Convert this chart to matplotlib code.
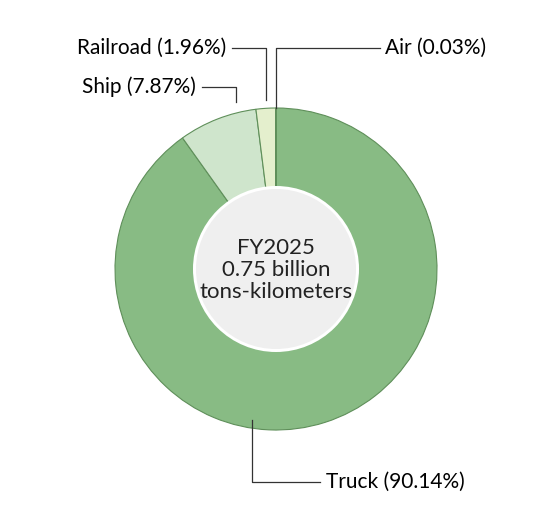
import matplotlib.pyplot as plt
from matplotlib.patches import Circle

labels = ["Truck", "Ship", "Railroad", "Air"]
shares = [90.14, 7.87, 1.96, 0.03]
colors = ["#88bb84", "#cfe5cc", "#e4efcd", "#f4f8e6"]
center_text = "FY2025\n0.75 billion\ntons-kilometers"

plt.rcParams["font.family"] = ["Lato", "DejaVu Sans"]

fig = plt.figure(figsize=(5.56, 5.18), dpi=100)
ax = fig.add_axes([0, 0, 1, 1])
ax.set_xlim(0, 556)
ax.set_ylim(518, 0)
ax.set_aspect("equal")
ax.axis("off")

cx, cy, r = 276, 269, 161
# y axis is flipped, so counterclock=True reads clockwise on screen
wedges, _ = ax.pie(shares, colors=colors, startangle=-90, counterclock=True,
                   center=(cx, cy), radius=r,
                   wedgeprops=dict(edgecolor="#5f8f5a", linewidth=0.8))
ax.set_xlim(0, 556)
ax.set_ylim(518, 0)
ax.add_patch(Circle((cx, cy), 83, facecolor="white", edgecolor="none", zorder=3))
ax.add_patch(Circle((cx, cy), 80, facecolor="#efefef", edgecolor="none", zorder=4))
ax.text(cx, cy + 1, center_text, ha="center", va="center", fontsize=16,
        linespacing=1.1, zorder=5, color="#222222")

lc = "#333333"
lw = 0.9
fs = 15
# Air
ax.plot([276, 276, 380], [108, 48, 48], color=lc, lw=lw)
ax.text(385, 48, f"{labels[3]} ({shares[3]:.2f}%)", ha="left", va="center", fontsize=fs)
# Railroad
ax.plot([266, 266, 232], [100, 48, 48], color=lc, lw=lw)
ax.text(226, 48, f"{labels[2]} ({shares[2]:.2f}%)", ha="right", va="center", fontsize=fs)
# Ship
ax.plot([236, 236, 202], [102, 87, 87], color=lc, lw=lw)
ax.text(196, 87, f"{labels[1]} ({shares[1]:.2f}%)", ha="right", va="center", fontsize=fs)
# Truck
ax.plot([252, 252, 320], [420, 482, 482], color=lc, lw=lw)
ax.text(326, 482, f"{labels[0]} ({shares[0]:.2f}%)", ha="left", va="center", fontsize=fs)

fig.savefig("out.png", dpi=100)
